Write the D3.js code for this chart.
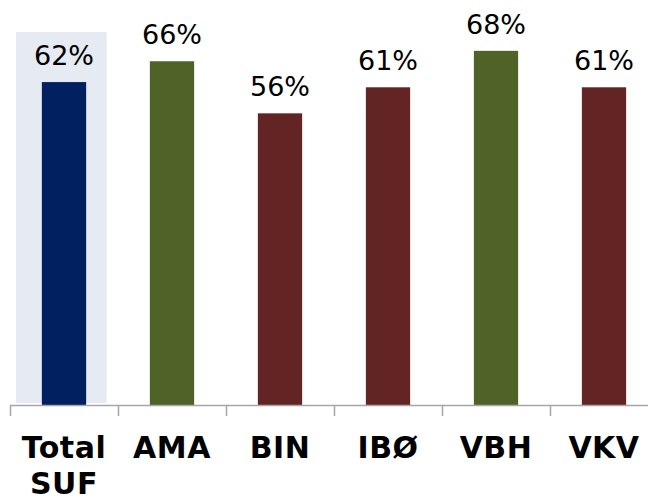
<!DOCTYPE html>
<html lang="da">
<head>
<meta charset="UTF-8">
<title>Bar Chart</title>
<script src="https://d3js.org/d3.v7.min.js"></script>
<style>
  body { margin: 0; background: #fff; }
</style>
</head>
<body>
<div id="my_dataviz"></div>
<script>
    // Data
    const categories = ["Total SUF", "AMA", "BIN", "IBØ", "VBH", "VKV"];
    const values = [0.62, 0.66, 0.56, 0.61, 0.68, 0.61];
    const barColors = ["#002060", "#4F6228", "#632523", "#632523", "#4F6228", "#632523"];

    const width = 648, height = 500;
    const baseY = 405;

    const svg = d3.select("#my_dataviz")
        .append("svg")
            .attr("width", width)
            .attr("height", height)
            .style("font-family", "'DejaVu Sans', Verdana, sans-serif");

    // X scale: one band per category
    const x = d3.scaleBand()
        .domain(categories)
        .range([10, 658])
        .padding(0);

    // Y scale
    const y = d3.scaleLinear()
        .domain([0, 0.7776])
        .range([baseY, 0]);

    // highlight behind the total bar
    svg.append("rect")
        .attr("x", x(categories[0]) + 6)
        .attr("y", y(0.716))
        .attr("width", x.bandwidth() * 0.84)
        .attr("height", baseY - 2 - y(0.716))
        .attr("fill", "#E6EAF2");

    const barW = x.bandwidth() * 0.41;

    // Bars
    svg.selectAll("rect.bar")
        .data(values)
        .join("rect")
            .attr("class", "bar")
            .attr("x", (d, i) => x(categories[i]) + x.bandwidth() / 2 - barW / 2)
            .attr("y", d => y(d))
            .attr("width", barW)
            .attr("height", d => baseY - y(d))
            .attr("fill", (d, i) => barColors[i]);

    // Value labels
    svg.selectAll("text.val")
        .data(values)
        .join("text")
            .attr("class", "val")
            .attr("x", (d, i) => x(categories[i]) + x.bandwidth() / 2)
            .attr("y", d => y(d) - 17)
            .attr("text-anchor", "middle")
            .style("font-size", "27px")
            .style("fill", "#000")
            .text(d => Math.round(d * 100) + "%");

    // X axis line and ticks between categories
    svg.append("line")
        .attr("x1", x.range()[0]).attr("x2", x.range()[1])
        .attr("y1", baseY + 0.5).attr("y2", baseY + 0.5)
        .attr("stroke", "#A6A6A6").attr("stroke-width", 1.5);

    const edges = categories.map(c => x(c)).concat([x.range()[1]]);
    svg.selectAll("line.tick")
        .data(edges)
        .join("line")
            .attr("class", "tick")
            .attr("x1", d => Math.round(d) + 0.5).attr("x2", d => Math.round(d) + 0.5)
            .attr("y1", baseY).attr("y2", baseY + 11)
            .attr("stroke", "#A6A6A6").attr("stroke-width", 1.5);

    // Category labels (wrap on space)
    const catText = svg.selectAll("text.cat")
        .data(categories)
        .join("text")
            .attr("class", "cat")
            .attr("x", d => x(d) + x.bandwidth() / 2)
            .attr("y", 458)
            .attr("text-anchor", "middle")
            .style("font-size", "30px")
            .style("font-weight", "bold")
            .style("letter-spacing", "0.5px")
            .style("fill", "#000");

    catText.each(function (d) {
        const words = d.split(" ");
        const t = d3.select(this);
        words.forEach((w, k) => {
            t.append("tspan")
                .attr("x", x(d) + x.bandwidth() / 2)
                .attr("dy", k === 0 ? 0 : 36)
                .text(w);
        });
    });
</script>
</body>
</html>
